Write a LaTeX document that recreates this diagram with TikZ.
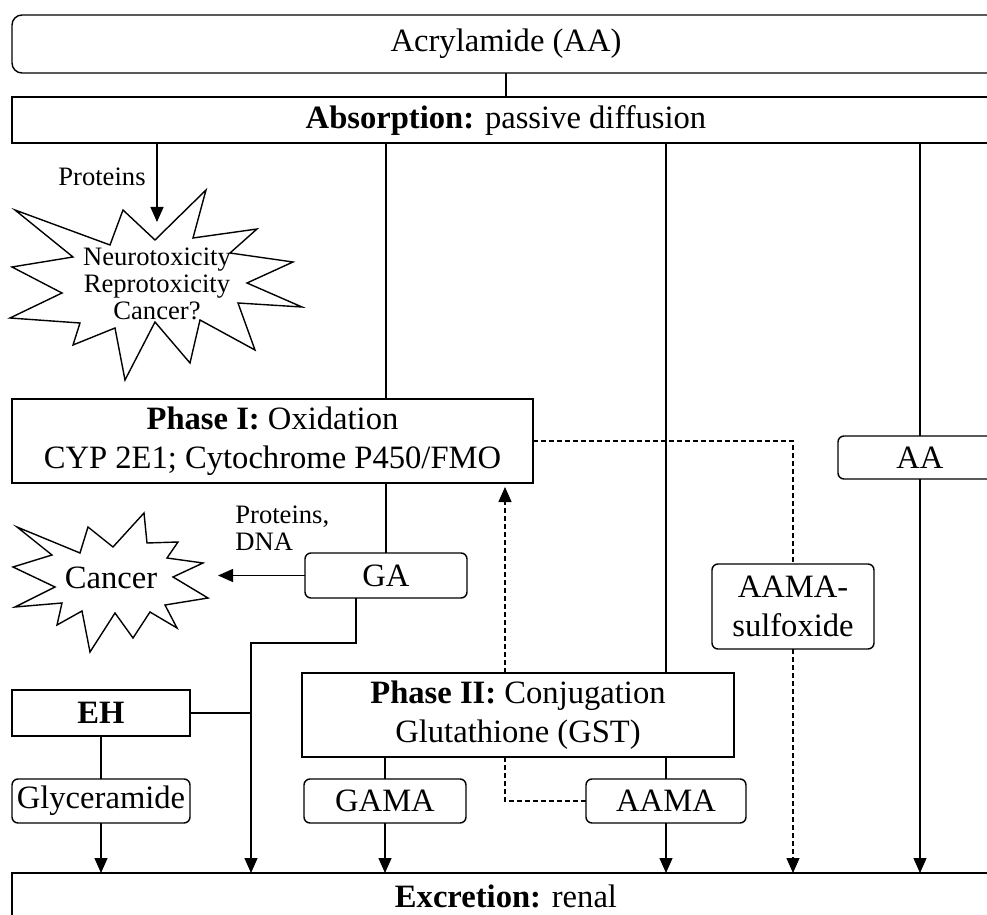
\documentclass[tikz,border=0pt]{standalone}
\usepackage{fontspec}
\setmainfont{Liberation Serif}
\usetikzlibrary{
	positioning,
	arrows.meta
}

\begin{document}
\begin{tikzpicture}[x=0.5pt, y=-0.5pt,
			framed/.style={rectangle, draw=black, line width=0.7pt, inner sep=0, outer sep=0, align=center, font=\fontsize{16.3}{19.5}\selectfont},
			rframed/.style={framed, rounded corners=3pt},
			plain/.style={inner sep=0, align=left, font=\fontsize{13.3}{13.5}\selectfont},
			line/.style={line width=0.7pt},
			arrow/.style={line width=0.7pt, -{Triangle[width=6.5pt,length=7.5pt]}},
			dashline/.style={dash pattern=on 2.5pt off 1.5pt}]

			\useasboundingbox (0,0) rectangle (987,915);
			\clip (0,0) rectangle (987,915);

			\node[rframed, rounded corners=5pt, minimum width=494pt, minimum height=29pt] (acryl) at (506,44) {Acrylamide (AA)};
			\node[framed, minimum width=494pt, minimum height=23pt, below=12pt of acryl] (absorp) {\textbf{Absorption:} passive diffusion};

			\node[framed, minimum width=260.5pt, minimum height=42pt] (phaseI) at (272.5,441) {\textbf{Phase I:} Oxidation\\CYP 2E1; Cytochrome P450/FMO};
			\node[rframed, minimum width=82pt, minimum height=21.5pt] (aa) at (920,457.5) {AA};
			\node[rframed, minimum width=81pt, minimum height=22.5pt] (ga) at (386,575.5) {GA};
			\node[rframed, minimum width=81pt, minimum height=42.5pt] (sulfox) at (793,606.5) {AAMA-\\sulfoxide};
			\node[framed, minimum width=216pt, minimum height=42pt] (phaseII) at (518,715) {\textbf{Phase II:} Conjugation\\Glutathione (GST)};

			\node[framed, minimum width=89pt, minimum height=23pt] (eh) at (101,713) {\textbf{EH}};
			\node[rframed, minimum width=89pt, minimum height=22pt, below=21.5pt of eh] (glycer) {Glyceramide};
			\node[rframed, minimum width=81pt, minimum height=22pt] (gama) at (385,801) {GAMA};
			\node[rframed, minimum width=80pt, minimum height=22pt] (aama) at (666,801) {AAMA};

			\node[framed, minimum width=494pt, minimum height=23pt] (excr) at (506,896) {\textbf{Excretion:} renal};

			% starbursts
			\draw[line] (15,210) -- (110,245) -- (123,210) -- (155,240) -- (206,190) -- (193,238)
				-- (257,229) -- (230,253) -- (293,262) -- (247,283) -- (302,307) -- (238,303)
				-- (255,350) -- (200,320) -- (190,363) -- (155,322) -- (125,380) -- (115,328)
				-- (73,345) -- (80,323) -- (10,318) -- (62,293) -- (12,267) -- (73,257) -- cycle;
			\node[plain, align=center] (neuro) at (157,284) {Neurotoxicity\\Reprotoxicity\\Cancer?};

			\draw[line] (17,527) -- (80,553) -- (88,527) -- (113,547) -- (144,513) -- (147,543)
				-- (178,542) -- (167,558) -- (203,563) -- (173,577) -- (208,598) -- (165,605)
				-- (177,628) -- (150,612) -- (133,638) -- (115,613) -- (90,652) -- (82,611)
				-- (57,625) -- (62,603) -- (15,607) -- (55,587) -- (13,567) -- (52,555) -- cycle;
			\node[inner sep=0, font=\fontsize{16.3}{19.5}\selectfont] (cancer) at (111,578) {Cancer};

			\node[plain] (prot) at (102,177) {Proteins};
			\node[plain, anchor=north west] (protdna) at (235,505) {Proteins,\\DNA};

			\coordinate (neuroTop) at (157,222);
			\coordinate (cancerTip) at (218,575.5);
			\coordinate (split) at (251,643);
			\coordinate (backTip) at (505,487);

			\draw[line] (acryl.south) -- (absorp.north);
			\draw[arrow] (absorp.south -| neuroTop) -- (neuroTop);
			\draw[line] (absorp.south -| ga) -- (phaseI.north -| ga);
			\draw[line] (phaseI.south -| ga) -- (ga.north);
			\draw[line] (absorp.south -| aama) -- (phaseII.north -| aama);
			\draw[line] (phaseII.south -| aama) -- (aama.north);
			\draw[arrow] (aama.south) -- (aama.south |- excr.north);
			\draw[line] (absorp.south -| aa) -- (aa.north);
			\draw[arrow] (aa.south) -- (aa.south |- excr.north);

			\draw[arrow] (ga.west) -- (cancerTip);
			\draw[arrow] ([xshift=-15pt]ga.south) |- (split) -- (split |- excr.north);
			\draw[line] (eh.east) -- (eh.east -| split);
			\draw[line] (eh.south) -- (glycer.north);
			\draw[arrow] (glycer.south) -- (glycer.south |- excr.north);
			\draw[line] (phaseII.south -| gama) -- (gama.north);
			\draw[arrow] (gama.south) -- (gama.south |- excr.north);

			\draw[line, dashline] (phaseI.east) -| (sulfox.north);
			\draw[arrow, dashline] (sulfox.south) -- (sulfox.south |- excr.north);
			\draw[line, dashline] (aama.west) -| (phaseII.south -| backTip);
			\draw[arrow, dashline] (phaseII.north -| backTip) -- (backTip);
		\end{tikzpicture}
\end{document}
